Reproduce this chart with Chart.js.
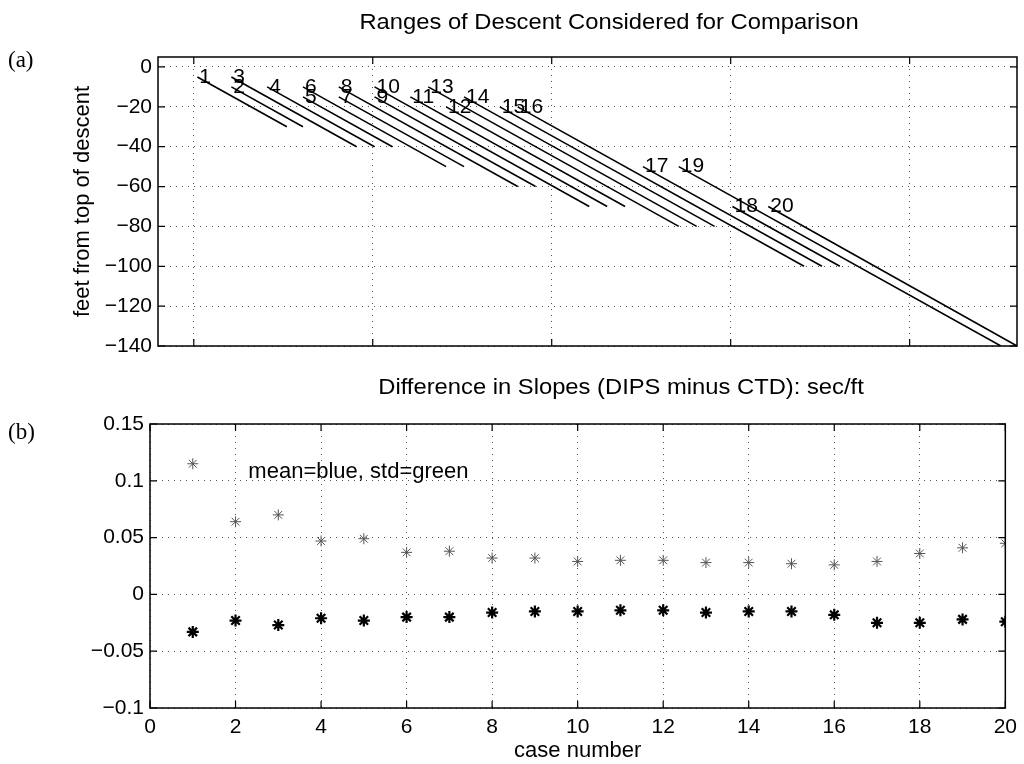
<!DOCTYPE html>
<html>
<head>
<meta charset="utf-8">
<script src="https://cdn.jsdelivr.net/npm/chart.js@4.4.1/dist/chart.umd.min.js"></script>
<style>
  body { margin: 0; background: #fff; width: 1024px; height: 764px; position: relative; overflow: hidden; font-family: "Liberation Sans", Arial, sans-serif; }
  canvas { position: absolute; left: 0; }
  .txt { position: absolute; white-space: nowrap; color: #000; z-index: 2; }
  .title { font-size: 22px; transform: translate(-50%, -50%) scaleX(1.08); }
  .panel { font-family: "Liberation Serif", "Times New Roman", serif; font-size: 23px; transform: translateY(-50%); }
</style>
</head>
<body>
<canvas id="descentChart" width="1024" height="380" style="top:0"></canvas>
<canvas id="slopeChart" width="1024" height="384" style="top:380px"></canvas>
<div class="txt title" style="left:609px; top:22px">Ranges of Descent Considered for Comparison</div>
<div class="txt panel" style="left:8px; top:60px">(a)</div>
<div class="txt title" style="left:621px; top:387px">Difference in Slopes (DIPS minus CTD): sec/ft</div>
<div class="txt panel" style="left:8px; top:432px">(b)</div>
<script>
// (a) depth range used for each case
const caseLabels = ["1", "2", "3", "4", "5", "6", "7", "8", "9", "10", "11", "12", "13", "14", "15", "16", "17", "18", "19", "20"];
const rangeTop = [-5, -10, -5, -10, -15, -10, -15, -10, -15, -10, -15, -20, -10, -15, -20, -20, -50, -70, -50, -70];
const rangeBottom = [-30, -30, -40, -40, -40, -50, -50, -60, -60, -70, -70, -70, -80, -80, -80, -100, -100, -100, -140, -140];
const rangeStartX = [10.2, 12.1, 12.1, 14.1, 16.1, 16.1, 18.1, 18.1, 20.1, 20.1, 22.1, 24.1, 23.1, 25.1, 27.1, 28.1, 35.1, 40.1, 37.1, 42.1];
const rangeEndX = [15.2, 16.1, 19.1, 20.1, 21.1, 24.1, 25.1, 28.1, 29.1, 32.1, 33.1, 34.1, 37.1, 38.1, 39.1, 44.1, 45.1, 46.1, 55.1, 56.0];
const depthTicks = [-140, -120, -100, -80, -60, -40, -20, 0];
const depthTickLabels = ["\u2212140", "\u2212120", "\u2212100", "\u221280", "\u221260", "\u221240", "\u221220", "0"];
const descentGridX = [10, 20, 30, 40, 50];

// (b) slope differences per case
const caseNumbers = [1, 2, 3, 4, 5, 6, 7, 8, 9, 10, 11, 12, 13, 14, 15, 16, 17, 18, 19, 20];
const slopeStd = [0.115, 0.064, 0.070, 0.047, 0.049, 0.037, 0.038, 0.032, 0.032, 0.029, 0.030, 0.030, 0.028, 0.028, 0.027, 0.026, 0.029, 0.036, 0.041, 0.045];
const slopeMean = [-0.033, -0.023, -0.027, -0.021, -0.023, -0.020, -0.020, -0.016, -0.015, -0.015, -0.014, -0.014, -0.016, -0.015, -0.015, -0.018, -0.025, -0.025, -0.022, -0.024];
const caseTicks = [0, 2, 4, 6, 8, 10, 12, 14, 16, 18, 20];
const slopeTicks = [-0.1, -0.05, 0, 0.05, 0.1, 0.15];
const slopeTickLabels = ["\u22120.1", "\u22120.05", "0", "0.05", "0.1", "0.15"];

const fontFamily = "'Liberation Sans', Arial, sans-serif";
const tickFont = { family: fontFamily, size: 21 };
const dots = [1, 5];

// matlab style box with inward tick marks
const boxTicks = {
  id: "boxTicks",
  afterDraw(chart) {
    const { ctx, chartArea: a, scales } = chart;
    ctx.save();
    ctx.strokeStyle = "#000";
    ctx.lineWidth = 1.5;
    ctx.strokeRect(a.left, a.top, a.right - a.left, a.bottom - a.top);
    ctx.lineWidth = 1.2;
    ctx.beginPath();
    scales.x.ticks.forEach((t) => {
      const px = scales.x.getPixelForValue(t.value);
      ctx.moveTo(px, a.bottom);
      ctx.lineTo(px, a.bottom - 7);
      ctx.moveTo(px, a.top);
      ctx.lineTo(px, a.top + 7);
    });
    scales.y.ticks.forEach((t) => {
      const py = scales.y.getPixelForValue(t.value);
      ctx.moveTo(a.left, py);
      ctx.lineTo(a.left + 7, py);
      ctx.moveTo(a.right, py);
      ctx.lineTo(a.right - 7, py);
    });
    ctx.stroke();
    ctx.restore();
  },
};

const caseLabelPlugin = {
  id: "caseLabels",
  afterDatasetsDraw(chart) {
    const { ctx, scales } = chart;
    ctx.save();
    ctx.font = "21px " + fontFamily;
    ctx.fillStyle = "#000";
    ctx.textAlign = "left";
    ctx.textBaseline = "middle";
    caseLabels.forEach((lab, i) => {
      ctx.fillText(lab, scales.x.getPixelForValue(rangeStartX[i]) + 2, scales.y.getPixelForValue(rangeTop[i]));
    });
    ctx.restore();
  },
};

const noteX = 2.3;
const noteY = 0.108;
const notePlugin = {
  id: "note",
  afterDatasetsDraw(chart) {
    const { ctx, scales } = chart;
    ctx.save();
    ctx.font = "22px " + fontFamily;
    ctx.fillStyle = "#000";
    ctx.textAlign = "left";
    ctx.textBaseline = "middle";
    ctx.fillText("mean=blue, std=green", scales.x.getPixelForValue(noteX), scales.y.getPixelForValue(noteY));
    ctx.restore();
  },
};

const rangeSets = caseLabels.map((lab, i) => ({
  label: "case " + lab,
  data: [
    { x: rangeStartX[i], y: rangeTop[i] },
    { x: rangeEndX[i], y: rangeBottom[i] },
  ],
  showLine: true,
  borderColor: "#000",
  borderWidth: 1.6,
  pointRadius: 0,
  fill: false,
}));

new Chart(document.getElementById("descentChart"), {
  type: "scatter",
  data: { datasets: rangeSets },
  options: {
    responsive: false,
    animation: false,
    devicePixelRatio: 1,
    layout: { padding: { left: 0, top: 57, right: 7, bottom: 34 } },
    plugins: { legend: { display: false }, tooltip: { enabled: false } },
    scales: {
      x: {
        type: "linear",
        min: 8,
        max: 56,
        afterBuildTicks: (s) => { s.ticks = descentGridX.map((v) => ({ value: v })); },
        afterFit: (s) => { s.height = 0; },
        ticks: { display: false },
        grid: { color: "#555", lineWidth: 1, drawTicks: false, borderDash: dots },
        border: { display: false, dash: dots },
      },
      y: {
        type: "linear",
        min: -140,
        max: 5,
        afterBuildTicks: (s) => { s.ticks = depthTicks.map((v) => ({ value: v })); },
        afterFit: (s) => { s.width = 158; },
        ticks: { font: tickFont, color: "#000", padding: 6, callback: (v, i) => depthTickLabels[i] },
        grid: { color: "#555", lineWidth: 1, drawTicks: false, borderDash: dots },
        border: { display: false, dash: dots },
        title: {
          display: true,
          text: "feet from top of descent",
          color: "#000",
          font: { family: fontFamily, size: 22 },
          padding: { top: 70, bottom: 0 },
        },
      },
    },
  },
  plugins: [boxTicks, caseLabelPlugin],
});

new Chart(document.getElementById("slopeChart"), {
  type: "scatter",
  data: {
    datasets: [
      {
        label: "std",
        data: caseNumbers.map((c, i) => ({ x: c, y: slopeStd[i] })),
        pointStyle: "star",
        pointRadius: 5.5,
        borderColor: "#555",
        backgroundColor: "rgba(0,0,0,0)",
        borderWidth: 1,
      },
      {
        label: "mean",
        data: caseNumbers.map((c, i) => ({ x: c, y: slopeMean[i] })),
        pointStyle: "star",
        pointRadius: 6,
        borderColor: "#000",
        backgroundColor: "rgba(0,0,0,0)",
        borderWidth: 2.2,
      },
    ],
  },
  options: {
    responsive: false,
    animation: false,
    devicePixelRatio: 1,
    layout: { padding: { left: 0, top: 44, right: 13, bottom: 0 } },
    plugins: { legend: { display: false }, tooltip: { enabled: false } },
    scales: {
      x: {
        type: "linear",
        min: 0,
        max: 20,
        afterBuildTicks: (s) => { s.ticks = caseTicks.map((v) => ({ value: v })); },
        afterFit: (s) => { s.height = 56; },
        ticks: { font: tickFont, color: "#000", padding: 7, maxRotation: 0, autoSkip: false },
        grid: { color: "#555", lineWidth: 1, drawTicks: false, borderDash: dots },
        border: { display: false, dash: dots },
        title: {
          display: true,
          text: "case number",
          color: "#000",
          font: { family: fontFamily, size: 22 },
          padding: { top: 0, bottom: 0 },
        },
      },
      y: {
        type: "linear",
        min: -0.1,
        max: 0.15,
        afterBuildTicks: (s) => { s.ticks = slopeTicks.map((v) => ({ value: v })); },
        afterFit: (s) => { s.width = 150; },
        ticks: { font: tickFont, color: "#000", padding: 6, callback: (v, i) => slopeTickLabels[i] },
        grid: { color: "#555", lineWidth: 1, drawTicks: false, borderDash: dots },
        border: { display: false, dash: dots },
      },
    },
  },
  plugins: [boxTicks, notePlugin],
});
</script>
</body>
</html>
